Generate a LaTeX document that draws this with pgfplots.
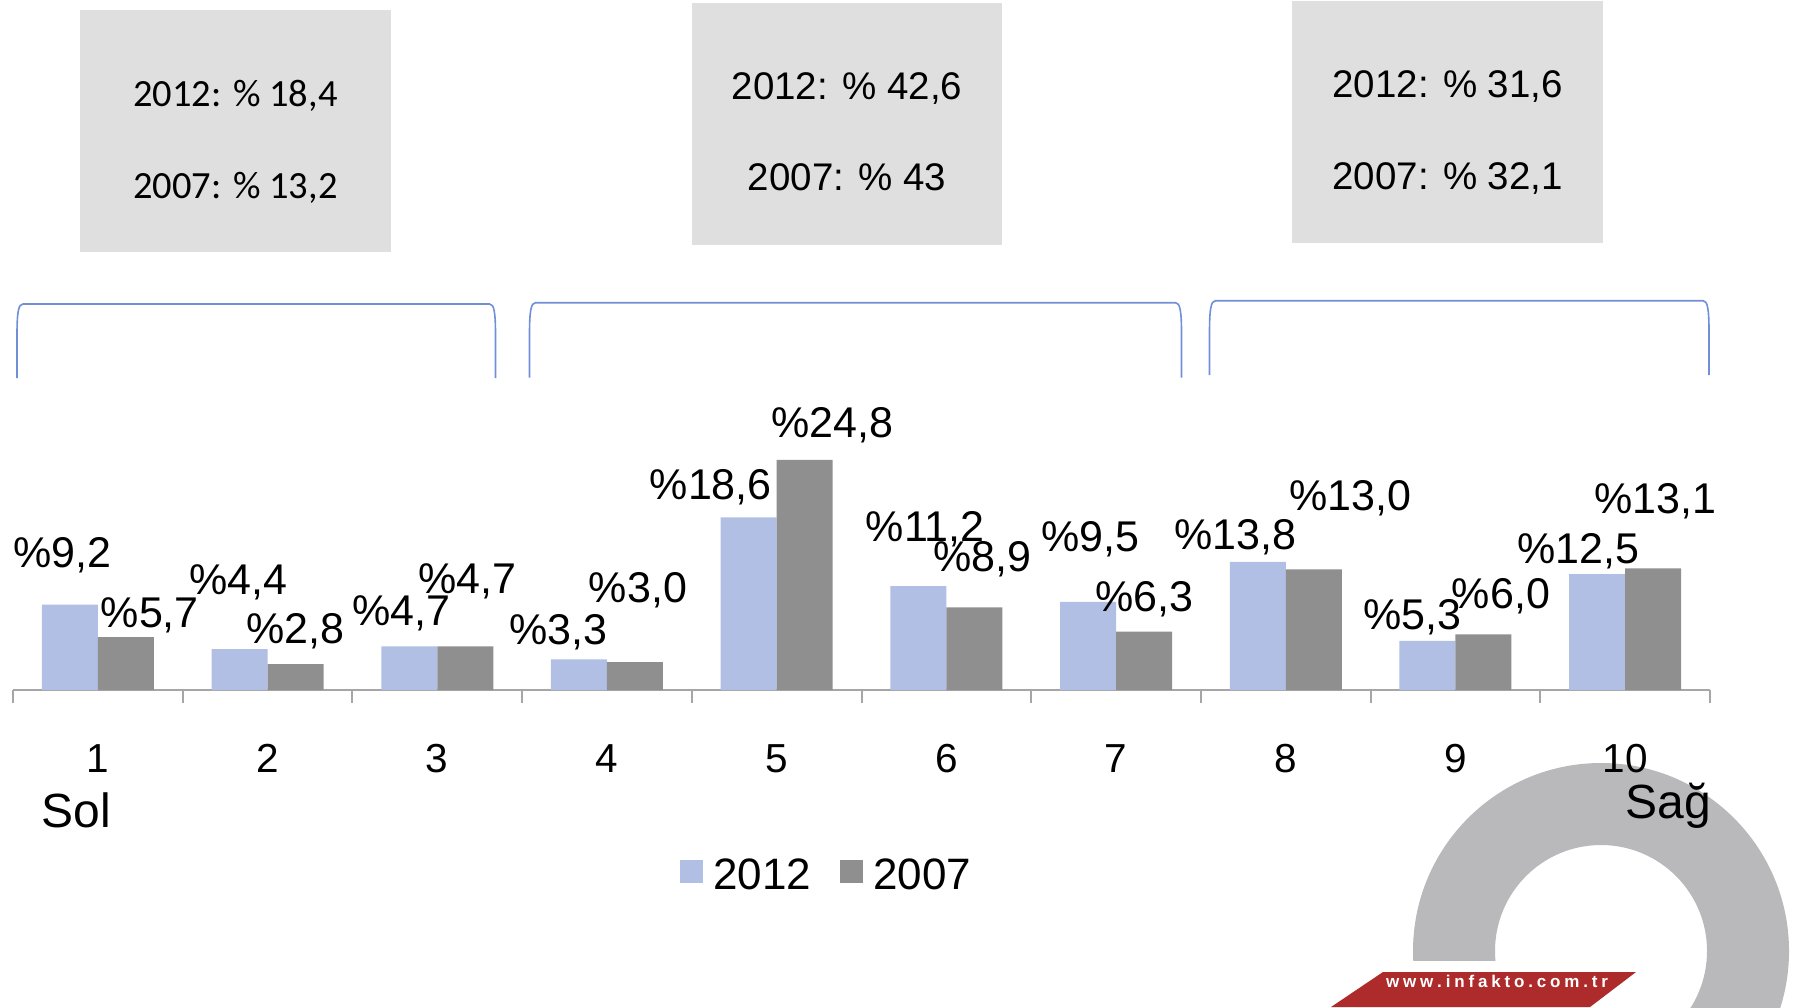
\documentclass[border=0pt]{standalone}
\usepackage{pgfplots}
\pgfplotsset{compat=1.18}
\usepackage{pgfplotstable}
\usepackage{fontspec}
\setmainfont{Liberation Sans}
\newfontfamily\calibri{Carlito}
\definecolor{c2012}{RGB}{176,191,227}
\definecolor{c2007}{RGB}{143,143,143}
\definecolor{axgray}{RGB}{166,166,166}
\definecolor{boxgray}{RGB}{223,223,223}
\definecolor{brblue}{RGB}{112,143,214}
\definecolor{ringgray}{RGB}{185,185,187}
\definecolor{bannerred}{RGB}{173,43,43}

% x = category, y = share (%), dx/dy = label offset from bar top (px)
\pgfplotstableread{
x y dx dy
1 9.2 -7.7 37.0
2 4.4 -0.9 54.9
3 4.7 -7.9 20.7
4 3.3 -20.4 14.7
5 18.6 -37.9 17.7
6 11.2 6.9 44.8
7 9.5 2.3 50.5
8 13.8 -22.2 12.2
9 5.3 -15.4 11.1
10 12.5 -19.1 11.0
}\tabA
\pgfplotstableread{
x y dx dy
1 5.7 24.0 10.0
2 2.8 0.0 21.0
3 4.7 2.3 53.4
4 3.0 3.0 60.0
5 24.8 27.6 21.9
6 8.9 8.1 36.1
7 6.3 0.6 20.2
8 13.0 36.8 58.9
9 6.0 17.5 26.3
10 13.1 1.8 55.4
}\tabB

\begin{document}
\begin{tikzpicture}
\begin{scope}[x=0.5pt,y=-0.5pt]
  % logo ring
  \fill[ringgray, even odd rule] (1601,951) circle[radius=94pt] (1601,951) circle[radius=53pt];
  \fill[white] (1300,960.7) rectangle (1660,1010);
  \fill[bannerred] (1383,972) -- (1636,972) -- (1590,1007) -- (1331,1007) -- cycle;
  \node[anchor=base, inner sep=0pt, text=white, font=\bfseries\fontsize{8.5}{10}\selectfont] at (1497,987.8)
    {\hbox to 111pt{w\hfil w\hfil w\hfil .\hfil i\hfil n\hfil f\hfil a\hfil k\hfil t\hfil o\hfil .\hfil c\hfil o\hfil m\hfil .\hfil t\hfil r}};
  % boxes
  \fill[boxgray] (79.5,10) rectangle (391,251.7);
  \fill[boxgray] (692,3.3) rectangle (1002,245);
  \fill[boxgray] (1292,1) rectangle (1603.4,242.7);
  \node[anchor=base, inner sep=0pt, font=\calibri\fontsize{19.25}{23}\selectfont] at (235.3,106.7) {2012: \% 18,4};
  \node[anchor=base, inner sep=0pt, font=\calibri\fontsize{19.25}{23}\selectfont] at (235.3,198.3) {2007: \% 13,2};
  \node[anchor=base, inner sep=0pt, font=\fontsize{19.25}{23}\selectfont] at (847,99.3) {2012: \% 42,6};
  \node[anchor=base, inner sep=0pt, font=\fontsize{19.25}{23}\selectfont] at (847,190.7) {2007: \% 43};
  \node[anchor=base, inner sep=0pt, font=\fontsize{19.25}{23}\selectfont] at (1447.7,97.3) {2012: \% 31,6};
  \node[anchor=base, inner sep=0pt, font=\fontsize{19.25}{23}\selectfont] at (1447.7,189) {2007: \% 32,1};
  % brackets
  \draw[brblue, line width=0.8pt] (17,378) -- (17,335) .. controls (17,312) and (18.5,304) .. (23,304) -- (489.5,304) .. controls (494,304) and (495.5,312) .. (495.5,335) -- (495.5,378);
  \draw[brblue, line width=0.8pt] (529.5,377.7) -- (529.5,334) .. controls (529.5,311) and (531,302.7) .. (535.5,302.7) -- (1175.5,302.7) .. controls (1180,302.7) and (1181.5,311) .. (1181.5,334) -- (1181.5,377.7);
  \draw[brblue, line width=0.8pt] (1209.5,375) -- (1209.5,332) .. controls (1209.5,309) and (1211,300.7) .. (1215.5,300.7) -- (1703,300.7) .. controls (1707.5,300.7) and (1709,309) .. (1709,332) -- (1709,375);
\end{scope}

\begin{axis}[
  at={(6.5pt,-345pt)}, anchor=south west,
  scale only axis, width=848.5pt, height=139.2pt,
  xmin=0.5, xmax=10.5, ymin=0, ymax=30,
  clip=false,
  /pgf/number format/assume math mode=true,
  axis x line*=bottom, axis y line=none,
  axis line style={draw=axgray, line width=1pt},
  ytick=\empty,
  xtick={1,...,10},
  major tick length=0pt,
  xticklabel style={font=\fontsize{20.25}{24}\selectfont, anchor=base, yshift=-41.35pt, inner sep=0pt},
  extra x ticks={0.5,1.5,...,10.5},
  extra x tick labels={},
  extra x tick style={major tick length=6.5pt, tick align=outside, tick style={draw=axgray, line width=1pt}},
  ybar, bar width=0.33,
  nodes near coords={\%\pgfmathprintnumber[fixed,fixed zerofill,precision=1,use comma,assume math mode=true]{\pgfplotspointmeta}},
  visualization depends on={\thisrow{dx} \as \labdx},
  visualization depends on={\thisrow{dy} \as \labdy},
  every node near coord/.append style={anchor=base, inner sep=0pt, xshift=\labdx*0.5pt, yshift=\labdy*0.5pt, font=\fontsize{21.5}{26}\selectfont, text=black},
  legend columns=2,
  legend image code/.code={\fill[#1] (0pt,-3.25pt) rectangle (11.35pt,8.1pt);},
  legend style={at={(0.393,-0.6685)}, anchor=west, draw=none, fill=none, inner sep=0pt, outer sep=0pt,
    font=\fontsize{22}{26}\selectfont, nodes={inner sep=0pt},
    /tikz/every odd column/.append style={column sep=5.3pt},
    /tikz/every even column/.append style={column sep=14.5pt}},
]
\addplot[fill=c2012, draw=none, bar shift=-0.165] table[x=x, y=y] {\tabA};
\addlegendentry{2012}
\addplot[fill=c2007, draw=none, bar shift=0.165] table[x=x, y=y] {\tabB};
\addlegendentry{2007}
\end{axis}

\begin{scope}[x=0.5pt,y=-0.5pt]
  \node[anchor=base west, inner sep=0pt, font=\fontsize{24}{29}\selectfont] at (41.5,827.7) {Sol};
  \node[anchor=base west, inner sep=0pt, font=\fontsize{24}{29}\selectfont] at (1625,818.3) {Sağ};
\end{scope}
\pgfresetboundingbox
\path (0,0) rectangle (903.5pt,-503.5pt);
\end{tikzpicture}
\end{document}
